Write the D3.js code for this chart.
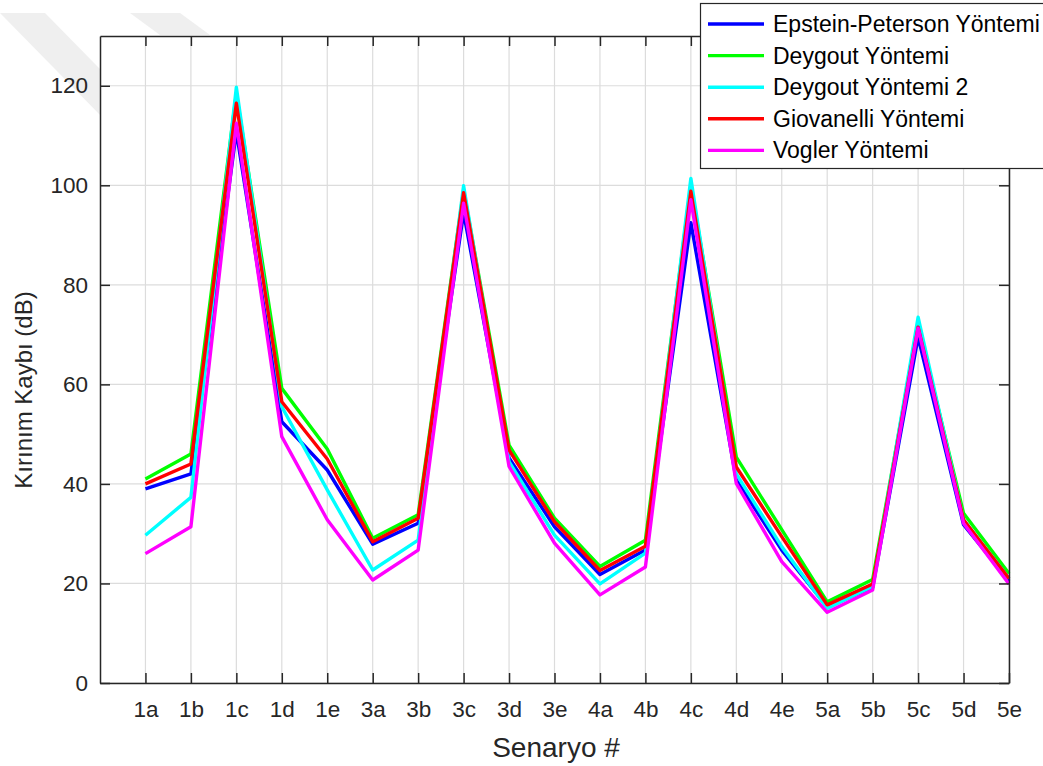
<!DOCTYPE html>
<html>
<head>
<meta charset="utf-8">
<script src="https://cdn.jsdelivr.net/npm/d3@7"></script>
<style>
  html, body { margin: 0; padding: 0; background: #fff; }
  svg { display: block; font-family: "Liberation Sans", Arial, sans-serif; }
</style>
</head>
<body>
<svg id="chart" width="1043" height="766"></svg>
<script>
const categories = ["1a","1b","1c","1d","1e","3a","3b","3c","3d","3e","4a","4b","4c","4d","4e","5a","5b","5c","5d","5e"];
const yTicks = [0, 20, 40, 60, 80, 100, 120];
const seriesNames = ["Epstein-Peterson Yöntemi", "Deygout Yöntemi", "Deygout Yöntemi 2", "Giovanelli Yöntemi", "Vogler Yöntemi"];
const seriesColors = ["#0000ff", "#00ff00", "#00ffff", "#ff0000", "#ff00ff"];
const epstein   = [39.0, 42.0, 110.8, 52.5, 42.8, 27.9, 32.1, 94.5, 45.2, 31.4, 21.8, 26.7, 92.5, 40.8, 26.7, 15.3, 19.2, 69.5, 31.8, 20.5];
const deygout   = [41.0, 46.0, 118.5, 59.2, 47.0, 29.1, 33.8, 99.0, 47.8, 33.1, 23.4, 28.7, 100.0, 45.4, 30.8, 16.3, 20.8, 72.0, 34.1, 22.0];
const deygout2  = [29.7, 37.3, 119.7, 55.5, 38.8, 22.7, 28.7, 99.9, 44.5, 29.7, 19.9, 26.1, 101.4, 42.0, 27.4, 15.0, 19.4, 73.5, 32.8, 21.0];
const giovanelli= [40.0, 44.0, 116.5, 56.5, 45.0, 28.4, 33.1, 98.5, 46.8, 32.4, 22.6, 27.5, 98.8, 43.4, 29.4, 15.7, 19.9, 71.5, 32.8, 21.0];
const vogler    = [26.0, 31.4, 112.5, 49.5, 32.8, 20.7, 26.7, 96.4, 43.5, 28.1, 17.7, 23.3, 97.1, 40.1, 24.4, 14.2, 18.7, 71.3, 32.1, 19.9];
const seriesValues = [epstein, deygout, deygout2, giovanelli, vogler];

const svg = d3.select("#chart");
const L = 100, R = 1009, T = 36, B = 683;
const textColor = "#262626";

// faint watermark stripes
const wm = svg.append("g").attr("fill", "#efefef");
wm.append("path").attr("d", "M0,13 L45,13 L150,120 L105,120 Z");
wm.append("path").attr("d", "M130,13 L180,13 L210,35 L160,35 Z");

const x = d3.scaleLinear().domain([0, categories.length]).range([L, R]);
const y = d3.scaleLinear().domain([0, 130]).range([B, T]);

svg.append("rect").attr("x", L).attr("y", T).attr("width", R - L).attr("height", B - T).attr("fill", "#fff");

// grid
const grid = svg.append("g").attr("stroke", "#dcdcdc").attr("stroke-width", 1.2);
categories.forEach((c, i) => {
  grid.append("line").attr("x1", x(i + 1)).attr("x2", x(i + 1)).attr("y1", T).attr("y2", B);
});
yTicks.forEach(v => {
  grid.append("line").attr("x1", L).attr("x2", R).attr("y1", y(v)).attr("y2", y(v));
});

// lines
const line = d3.line().x((d, i) => x(i + 1)).y(d => y(d));
seriesValues.forEach((vals, k) => {
  svg.append("path").datum(vals).attr("d", line)
    .attr("fill", "none").attr("stroke", seriesColors[k])
    .attr("stroke-width", 3.4).attr("stroke-linejoin", "round");
});

// axes
const xTickVals = categories.map((c, i) => i + 1);
const xAxisB = d3.axisBottom(x).tickValues(xTickVals).tickFormat((d) => categories[d - 1]).tickSizeInner(-10).tickSizeOuter(0).tickPadding(18);
const xAxisT = d3.axisTop(x).tickValues(xTickVals).tickFormat("").tickSizeInner(-10).tickSizeOuter(0);
const yAxisL = d3.axisLeft(y).tickValues(yTicks).tickSizeInner(-10).tickSizeOuter(0).tickPadding(12);
const yAxisR = d3.axisRight(y).tickValues(yTicks).tickFormat("").tickSizeInner(-10).tickSizeOuter(0);

function style(g) {
  g.select(".domain").attr("stroke", textColor).attr("stroke-width", 1.5);
  g.selectAll(".tick line").attr("stroke", textColor).attr("stroke-width", 1.5);
  g.selectAll(".tick text").attr("fill", textColor).attr("font-size", 22.5).attr("font-family", "Liberation Sans, Arial, sans-serif");
}
svg.append("g").attr("transform", `translate(0,${B})`).call(xAxisB).call(style);
svg.append("g").attr("transform", `translate(0,${T})`).call(xAxisT).call(style);
svg.append("g").attr("transform", `translate(${L},0)`).call(yAxisL).call(style);
svg.append("g").attr("transform", `translate(${R},0)`).call(yAxisR).call(style);

// axis labels
svg.append("text").attr("x", 556).attr("y", 757).attr("text-anchor", "middle")
  .attr("fill", textColor).attr("font-size", 28).text("Senaryo #");
svg.append("text").attr("transform", "translate(32,390) rotate(-90)").attr("text-anchor", "middle")
  .attr("fill", textColor).attr("font-size", 24).text("Kırınım Kaybı (dB)");

// legend
const lg = svg.append("g");
lg.append("rect").attr("x", 700.5).attr("y", 3.5).attr("width", 345).attr("height", 165)
  .attr("fill", "#fff").attr("stroke", textColor).attr("stroke-width", 1.2);
seriesNames.forEach((n, k) => {
  const yy = 24 + k * 31.6;
  lg.append("line").attr("x1", 708).attr("x2", 764).attr("y1", yy).attr("y2", yy)
    .attr("stroke", seriesColors[k]).attr("stroke-width", 3.4);
  lg.append("text").attr("x", 773).attr("y", yy).attr("dy", "0.35em")
    .attr("fill", "#000").attr("font-size", 23).text(n);
});
</script>
</body>
</html>
